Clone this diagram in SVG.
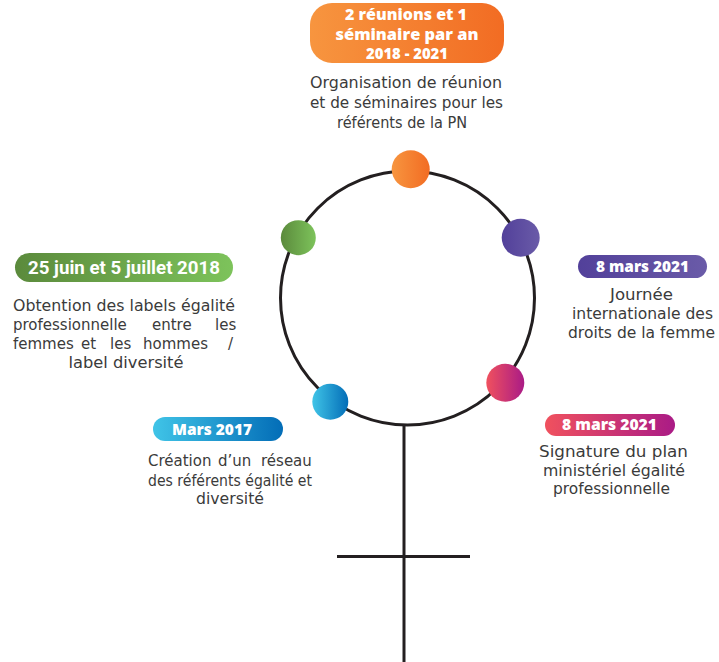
<svg xmlns="http://www.w3.org/2000/svg" width="719" height="662" viewBox="0 0 719 662">
<style>
.pill{font-family:"Open Sans","DejaVu Sans",sans-serif;font-weight:800;fill:#ffffff;text-anchor:middle;font-size:15px}
.desc{font-family:"DejaVu Sans","Noto Sans",sans-serif;font-size:15px;fill:#3b3b3b}
.mid{text-anchor:middle}
.line{stroke:#231f20;stroke-width:3;fill:none}
</style>
<defs>
<linearGradient id="gOr" x1="0" x2="1" y1="0" y2="0"><stop offset="0" stop-color="#f7953f"/><stop offset="1" stop-color="#f26c23"/></linearGradient>
<linearGradient id="gGr" x1="0" x2="1" y1="0" y2="0"><stop offset="0" stop-color="#5b8a3c"/><stop offset="1" stop-color="#7dc35b"/></linearGradient>
<linearGradient id="gPu" x1="0" x2="1" y1="0" y2="0"><stop offset="0" stop-color="#52409a"/><stop offset="1" stop-color="#6a5ba8"/></linearGradient>
<linearGradient id="gPi" x1="0" x2="1" y1="0" y2="0"><stop offset="0" stop-color="#f0515e"/><stop offset="1" stop-color="#aa1b86"/></linearGradient>
<linearGradient id="gBl" x1="0" x2="1" y1="0" y2="0"><stop offset="0" stop-color="#40c4e7"/><stop offset="1" stop-color="#036db7"/></linearGradient>
</defs>
<g id="connectors">
<circle class="line" cx="407.5" cy="298" r="127"/>
<line class="line" x1="404" y1="425" x2="404" y2="662"/>
<line class="line" x1="337" y1="556.5" x2="470" y2="556.5"/>
</g>
<g id="node-top">
<circle cx="410.7" cy="169.3" r="19" fill="url(#gOr)"/>
<rect x="310" y="3" width="194" height="60" rx="22" fill="url(#gOr)"/>
<text class="pill" x="406" y="20" textLength="122" lengthAdjust="spacingAndGlyphs">2 réunions et 1</text>
<text class="pill" x="407" y="39.5" textLength="143" lengthAdjust="spacingAndGlyphs">séminaire par an</text>
<text class="pill" x="407" y="59" textLength="82" lengthAdjust="spacingAndGlyphs">2018 - 2021</text>
<text class="desc mid" x="406" y="88" textLength="192" lengthAdjust="spacingAndGlyphs">Organisation de réunion</text>
<text class="desc mid" x="406.5" y="108" textLength="193" lengthAdjust="spacingAndGlyphs">et de séminaires pour les</text>
<text class="desc mid" x="402" y="128" textLength="130" lengthAdjust="spacingAndGlyphs">référents de la PN</text>
</g>
<g id="node-left">
<circle cx="298.3" cy="237.7" r="17.5" fill="url(#gGr)"/>
<rect x="15" y="253" width="218" height="29" rx="14.5" fill="url(#gGr)"/>
<text x="124" y="273.5" font-family="Roboto,'Liberation Sans',sans-serif" font-weight="700" font-size="18" fill="#fff" text-anchor="middle" textLength="192" lengthAdjust="spacingAndGlyphs">25 juin et 5 juillet 2018</text>
<text class="desc" x="13" y="311" textLength="222" lengthAdjust="spacingAndGlyphs">Obtention des labels égalité</text>
<text class="desc" y="330"><tspan x="13">professionnelle</tspan><tspan x="152">entre</tspan><tspan x="215">les</tspan></text>
<text class="desc" y="349"><tspan x="13">femmes</tspan><tspan x="81">et</tspan><tspan x="110">les</tspan><tspan x="143">hommes</tspan><tspan x="228">/</tspan></text>
<text class="desc mid" x="126" y="368" textLength="115" lengthAdjust="spacingAndGlyphs">label diversité</text>
</g>
<g id="node-right">
<circle cx="520.7" cy="237.7" r="19" fill="url(#gPu)"/>
<rect x="578" y="255" width="129" height="23" rx="11.5" fill="url(#gPu)"/>
<text class="pill" x="642.5" y="272" textLength="93" lengthAdjust="spacingAndGlyphs">8 mars 2021</text>
<text class="desc mid" x="641.5" y="300" textLength="63" lengthAdjust="spacingAndGlyphs">Journée</text>
<text class="desc mid" x="642.5" y="319" textLength="141" lengthAdjust="spacingAndGlyphs">internationale des</text>
<text class="desc mid" x="641.5" y="338" textLength="147" lengthAdjust="spacingAndGlyphs">droits de la femme</text>
</g>
<g id="node-bottom-right">
<circle cx="505.3" cy="382.7" r="19" fill="url(#gPi)"/>
<rect x="545" y="414" width="130" height="22" rx="11" fill="url(#gPi)"/>
<text class="pill" x="609.5" y="430" textLength="95" lengthAdjust="spacingAndGlyphs">8 mars 2021</text>
<text class="desc mid" x="613.5" y="457" textLength="149" lengthAdjust="spacingAndGlyphs">Signature du plan</text>
<text class="desc mid" x="614" y="476" textLength="142" lengthAdjust="spacingAndGlyphs">ministériel égalité</text>
<text class="desc mid" x="611.5" y="494" textLength="117" lengthAdjust="spacingAndGlyphs">professionnelle</text>
</g>
<g id="node-bottom-left">
<circle cx="330.3" cy="401.7" r="18" fill="url(#gBl)"/>
<rect x="153" y="417" width="130" height="24" rx="12" fill="url(#gBl)"/>
<text class="pill" x="212" y="435" textLength="80" lengthAdjust="spacingAndGlyphs">Mars 2017</text>
<text class="desc" y="466"><tspan x="148">Création</tspan><tspan x="218">d’un</tspan><tspan x="261">réseau</tspan></text>
<text class="desc" x="148" y="486" textLength="164" lengthAdjust="spacingAndGlyphs">des référents égalité et</text>
<text class="desc mid" x="230" y="504" textLength="68" lengthAdjust="spacingAndGlyphs">diversité</text>
</g>
</svg>
